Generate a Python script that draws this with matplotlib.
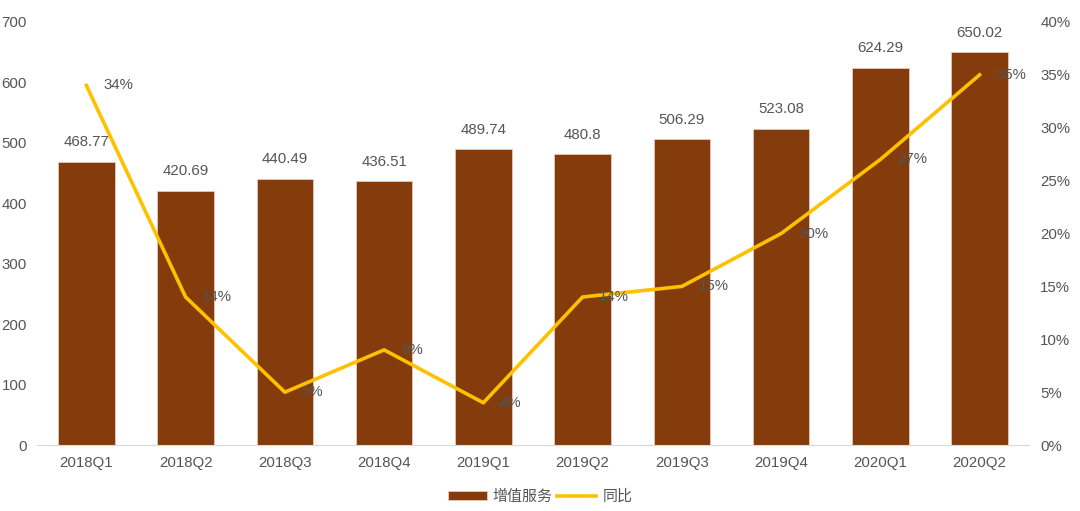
import matplotlib.pyplot as plt
import numpy as np

plt.rcParams['font.family'] = ['Liberation Sans', 'Noto Sans CJK SC', 'DejaVu Sans']

# data
quarters = ['2018Q1', '2018Q2', '2018Q3', '2018Q4', '2019Q1',
            '2019Q2', '2019Q3', '2019Q4', '2020Q1', '2020Q2']
revenue = [468.77, 420.69, 440.49, 436.51, 489.74, 480.8, 506.29, 523.08, 624.29, 650.02]
yoy = [34, 14, 5, 9, 4, 14, 15, 20, 27, 35]

bar_color = '#843C0C'
line_color = '#FFC000'
text_color = '#555555'
fs = 10.8

fig = plt.figure(figsize=(10.8, 5.11), dpi=100)
ax = fig.add_axes([0.034, 0.129, 0.919, 0.828])
x = np.arange(len(quarters))

bars = ax.bar(x, revenue, width=0.57, color=bar_color, edgecolor='#E8C9B4',
              linewidth=0.6, label='增值服务', zorder=2)
for xi, v in zip(x, revenue):
    ax.annotate(f'{v:g}', (xi, v), xytext=(0, 9), textcoords='offset points',
                ha='center', va='bottom', fontsize=fs, color=text_color)

ax.set_xlim(-0.5, len(quarters) - 0.5)
ax.set_ylim(0, 700)
ax.set_yticks(range(0, 701, 100))
ax.set_xticks(x)
ax.set_xticklabels(quarters)
for s in ['top', 'right', 'left']:
    ax.spines[s].set_visible(False)
ax.spines['bottom'].set_color('#D9D9D9')
ax.tick_params(axis='both', length=0, labelsize=fs, colors=text_color)
ax.tick_params(axis='y', pad=7)
ax.tick_params(axis='x', pad=8)

ax2 = ax.twinx()
line, = ax2.plot(x, np.array(yoy) / 100, color=line_color, linewidth=2.6,
                 label='同比', zorder=3)
# percentage labels sit on top of the line, as in the original
for xi, v in zip(x, yoy):
    ax2.annotate(f'{v}%', (xi, v / 100), xytext=(12, 0), textcoords='offset points',
                 ha='left', va='center', fontsize=fs, color=text_color, zorder=5)
ax2.set_ylim(0, 0.40)
ax2.set_yticks(np.arange(0, 0.41, 0.05))
ax2.set_yticklabels([f'{int(round(t * 100))}%' for t in np.arange(0, 0.41, 0.05)])
for s in ax2.spines.values():
    s.set_visible(False)
ax2.tick_params(axis='y', length=0, labelsize=fs, colors=text_color, pad=8)

fig.legend([bars, line], ['增值服务', '同比'], loc='lower center',
           bbox_to_anchor=(0.5, -0.012), ncol=2, frameon=False, fontsize=fs,
           labelcolor=text_color, handlelength=2.6, handleheight=0.6,
           columnspacing=0.3, handletextpad=0.4)

fig.savefig('out.png', dpi=100)
